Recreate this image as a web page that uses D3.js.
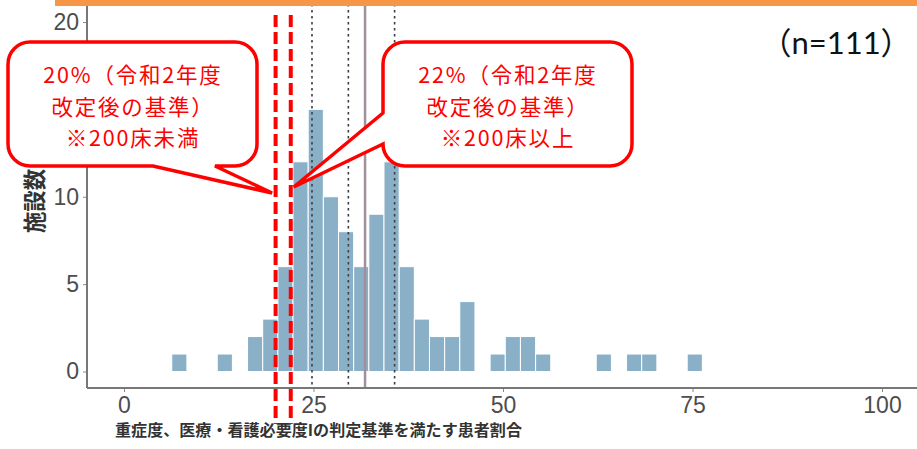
<!DOCTYPE html>
<html>
<head>
<meta charset="utf-8">
<script src="https://cdn.jsdelivr.net/npm/d3@7"></script>
<style>
  html, body { margin: 0; padding: 0; background: #ffffff; }
  svg { display: block; }
</style>
</head>
<body>
<div id="chart"></div>
<script>
// ---- data ----
const binStarts = [6.3, 12.3, 16.3, 18.3, 20.3, 22.3, 24.3, 26.3, 28.3, 30.3, 32.3, 34.3, 36.3, 38.3, 40.3, 42.3, 44.3, 48.3, 50.3, 52.3, 54.3, 62.3, 66.3, 68.3, 74.3];
const counts    = [1,   1,    2,    3,    6,    12,   15,   10,   8,    6,    9,    12,   6,    3,    2,    2,    4,    1,    2,    2,    1,    1,    1,    1,    1];
const binWidth = 2;
const xTicks = [0, 25, 50, 75, 100];
const yTicks = [0, 5, 10, 20];
const dottedLines = [24.8, 29.6, 35.7];
const solidLines = [31.8];
const thresholds = [20, 22];
const leftLabel = ["20%（令和2年度", "改定後の基準）", "※200床未満"];
const rightLabel = ["22%（令和2年度", "改定後の基準）", "※200床以上"];
const nLabel = "（n=111）";
const xTitle = "重症度、医療・看護必要度Iの判定基準を満たす患者割合";
const yTitle = "施設数";

// ---- layout ----
const W = 917, H = 449;
const svg = d3.select("#chart").append("svg").attr("width", W).attr("height", H);

const x = d3.scaleLinear().domain([0, 100]).range([124, 882]);
const y = d3.scaleLinear().domain([0, 20]).range([371.5, 22]);
const axisY = 388, axisX = 87;

// bars
svg.append("g").selectAll("rect")
  .data(binStarts.map((s, i) => ({ s, c: counts[i] })))
  .join("rect")
  .attr("x", d => x(d.s))
  .attr("width", d => x(d.s + binWidth) - x(d.s))
  .attr("y", d => y(d.c))
  .attr("height", d => y(0) - y(d.c))
  .attr("fill", "#8ab0c8")
  .attr("stroke", "#ffffff")
  .attr("stroke-width", 1);

// reference lines
svg.append("g").selectAll("line")
  .data(dottedLines).join("line")
  .attr("x1", d => x(d)).attr("x2", d => x(d))
  .attr("y1", 4).attr("y2", axisY)
  .attr("stroke", "#3a3f45").attr("stroke-width", 1.6)
  .attr("stroke-dasharray", "2.5,3.5");
svg.append("g").selectAll("line")
  .data(solidLines).join("line")
  .attr("x1", d => x(d)).attr("x2", d => x(d))
  .attr("y1", 4).attr("y2", axisY)
  .attr("stroke", "#a0909a").attr("stroke-width", 2.5);

// axes
const xAxis = d3.axisBottom(x).tickValues(xTicks).tickSize(4).tickPadding(5).tickFormat(d3.format("d"));
const gx = svg.append("g").attr("transform", `translate(0,${axisY})`).call(xAxis);
gx.select(".domain").remove();
gx.selectAll(".tick line").attr("stroke", "#888");
gx.selectAll(".tick text").attr("fill", "#4d4d4d").attr("font-size", 23)
  .attr("font-family", "'Liberation Sans', Arial, sans-serif");
svg.append("line").attr("x1", axisX).attr("x2", W).attr("y1", axisY).attr("y2", axisY)
  .attr("stroke", "#777").attr("stroke-width", 2);

const yAxis = d3.axisLeft(y).tickValues(yTicks).tickSize(4).tickPadding(4).tickFormat(d3.format("d"));
const gy = svg.append("g").attr("transform", `translate(${axisX},0)`).call(yAxis);
gy.select(".domain").remove();
gy.selectAll(".tick line").attr("stroke", "#888");
gy.selectAll(".tick text").attr("fill", "#4d4d4d").attr("font-size", 23)
  .attr("font-family", "'Liberation Sans', Arial, sans-serif");
svg.append("line").attr("x1", axisX).attr("x2", axisX).attr("y1", 0).attr("y2", axisY)
  .attr("stroke", "#777").attr("stroke-width", 2);

// titles
svg.append("text")
  .attr("transform", "translate(43,201) rotate(-90)")
  .attr("text-anchor", "middle")
  .attr("font-family", "'Noto Sans CJK JP', sans-serif")
  .attr("font-weight", "bold")
  .attr("font-size", 23).attr("fill", "#333")
  .attr("textLength", 64).attr("lengthAdjust", "spacingAndGlyphs")
  .text(yTitle);
svg.append("text")
  .attr("x", 115).attr("y", 436)
  .attr("font-family", "'Noto Sans CJK JP', sans-serif")
  .attr("font-weight", "bold")
  .attr("font-size", 15.5).attr("fill", "#333")
  .attr("textLength", 407).attr("lengthAdjust", "spacingAndGlyphs")
  .text(xTitle);

// top orange band
svg.append("rect").attr("x", 55).attr("y", 0).attr("width", W - 55).attr("height", 6)
  .attr("fill", "#f79646");

// threshold dashed lines
svg.append("g").selectAll("line")
  .data(thresholds).join("line")
  .attr("x1", d => x(d)).attr("x2", d => x(d))
  .attr("y1", 15).attr("y2", 424)
  .attr("stroke", "#ff0000").attr("stroke-width", 4)
  .attr("stroke-dasharray", "12,5");

// callouts
const r = 22;
function bubbleBottomTail(x0, y0, x1, y1, t1, t2, tx, ty) {
  return `M${x0 + r},${y0} H${x1 - r} A${r},${r} 0 0 1 ${x1},${y0 + r} V${y1 - r} A${r},${r} 0 0 1 ${x1 - r},${y1}` +
    ` H${t2} L${tx},${ty} L${t1},${y1} H${x0 + r} A${r},${r} 0 0 1 ${x0},${y1 - r} V${y0 + r} A${r},${r} 0 0 1 ${x0 + r},${y0} Z`;
}
function bubbleLeftTail(x0, y0, x1, y1, t1, t2, tx, ty) {
  return `M${x0 + r},${y0} H${x1 - r} A${r},${r} 0 0 1 ${x1},${y0 + r} V${y1 - r} A${r},${r} 0 0 1 ${x1 - r},${y1}` +
    ` H${x0 + r} A${r},${r} 0 0 1 ${x0},${y1 - r} L${tx},${ty} L${x0},${t1} V${y0 + r} A${r},${r} 0 0 1 ${x0 + r},${y0} Z`;
}
svg.append("path")
  .attr("d", bubbleBottomTail(8, 42, 257, 166, 153, 215, x(20) - 3.5, 193))
  .attr("fill", "#fff").attr("stroke", "#ff0000").attr("stroke-width", 3.5).attr("stroke-linejoin", "miter");
svg.append("path")
  .attr("d", bubbleLeftTail(383, 42, 632, 166, 113, 144, x(22) + 3, 187))
  .attr("fill", "#fff").attr("stroke", "#ff0000").attr("stroke-width", 3.5).attr("stroke-linejoin", "miter");

function writeLines(lines, cx) {
  svg.append("g").selectAll("text").data(lines).join("text")
    .attr("x", cx + 1).attr("y", (d, i) => 83 + i * 31.5)
    .attr("text-anchor", "middle")
    .attr("font-family", "'Noto Sans CJK JP', sans-serif")
    .attr("font-size", 21.5).attr("letter-spacing", 1.8).attr("fill", "#ff0000")
    .text(d => d);
}
writeLines(leftLabel, 132);
writeLines(rightLabel, 507);

svg.append("text")
  .attr("x", 836).attr("y", 54)
  .attr("text-anchor", "middle")
  .attr("font-family", "Lato, 'Noto Sans CJK JP', sans-serif")
  .attr("font-size", 31).attr("fill", "#111")
  .text(nLabel);
</script>
</body>
</html>
